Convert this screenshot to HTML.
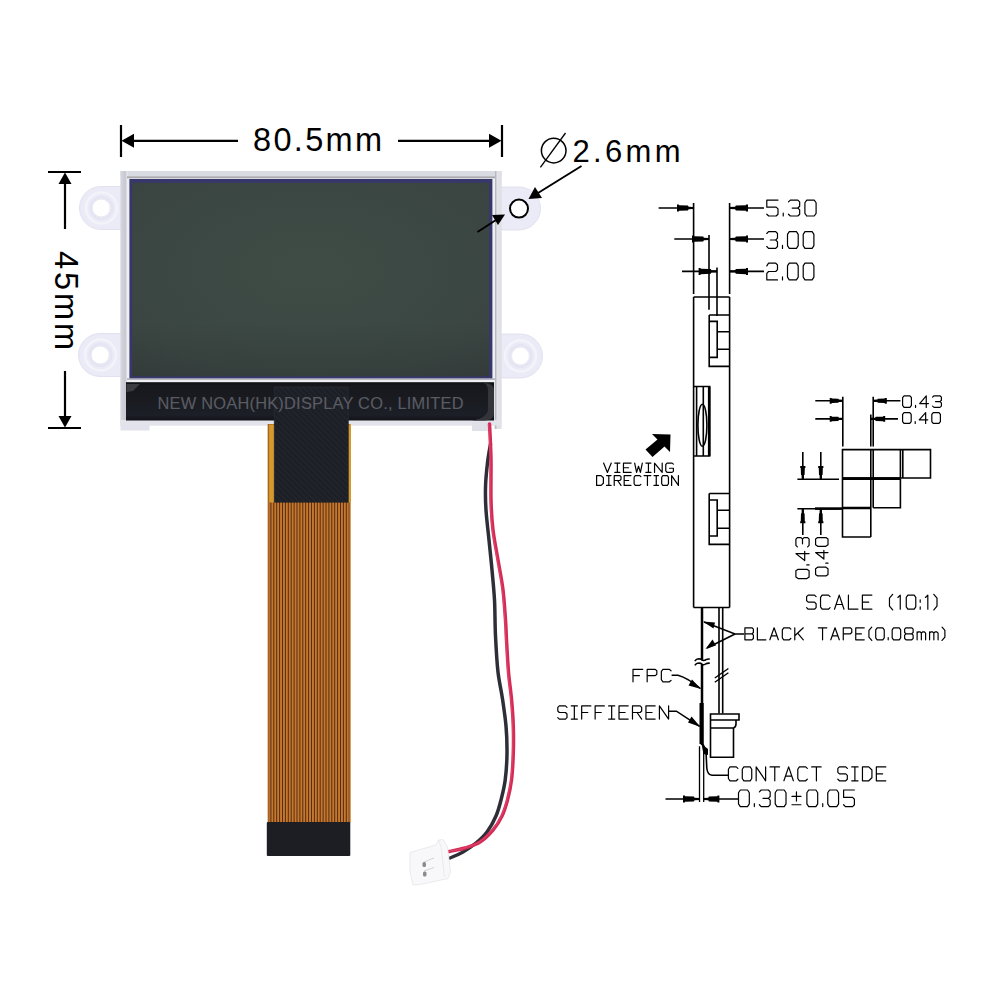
<!DOCTYPE html>
<html><head><meta charset="utf-8">
<style>
html,body{margin:0;padding:0;background:#fff;width:1000px;height:1000px;overflow:hidden}
svg{display:block}
.sans{font-family:"Liberation Sans",sans-serif}
</style></head>
<body>
<svg width="1000" height="1000" viewBox="0 0 1000 1000">
<defs>
  <radialGradient id="scr" cx="0.5" cy="0.45" r="0.85">
    <stop offset="0" stop-color="#3f4c45"/>
    <stop offset="0.65" stop-color="#3b4643"/>
    <stop offset="1" stop-color="#38403e"/>
  </radialGradient>
  <linearGradient id="scrsh" x1="0" x2="0" y1="0" y2="1">
    <stop offset="0.72" stop-color="#000" stop-opacity="0"/>
    <stop offset="1" stop-color="#000" stop-opacity="0.11"/>
  </linearGradient>
  <linearGradient id="fpcg" x1="0" x2="1" y1="0" y2="0">
    <stop offset="0" stop-color="#4a2c0e"/>
    <stop offset="0.25" stop-color="#c47f32"/>
    <stop offset="0.55" stop-color="#e0953c"/>
    <stop offset="0.82" stop-color="#bd772c"/>
    <stop offset="1" stop-color="#4a2c0e"/>
  </linearGradient>
  <pattern id="fpcp" x="268.8" y="0" width="2.85" height="10" patternUnits="userSpaceOnUse">
    <rect x="0" y="0" width="2.85" height="10" fill="url(#fpcg)"/>
  </pattern>
  <pattern id="tapep" width="4" height="4" patternUnits="userSpaceOnUse" patternTransform="rotate(-45)">
    <rect width="4" height="4" fill="#1d1f26"/>
    <rect width="1.1" height="4" fill="#2c2f37"/>
  </pattern>
  <linearGradient id="stripg" x1="0" x2="0" y1="0" y2="1">
    <stop offset="0" stop-color="#0f1013"/>
    <stop offset="0.1" stop-color="#17181d"/>
    <stop offset="0.55" stop-color="#1a1c22"/>
    <stop offset="0.86" stop-color="#1c1f27"/>
    <stop offset="1" stop-color="#111216"/>
  </linearGradient>
  <radialGradient id="earg" cx="0.5" cy="0.5" r="0.5">
    <stop offset="0" stop-color="#f3f3fb"/>
    <stop offset="0.55" stop-color="#ebebf6"/>
    <stop offset="0.75" stop-color="#f1f1f9"/>
    <stop offset="1" stop-color="#e4e4f1"/>
  </radialGradient>
  <linearGradient id="frl" x1="0" x2="1" y1="0" y2="0">
    <stop offset="0" stop-color="#d6d6e0"/>
    <stop offset="0.7" stop-color="#c8c8d2"/>
    <stop offset="1" stop-color="#ededf2"/>
  </linearGradient>
  <linearGradient id="frr" x1="0" x2="1" y1="0" y2="0">
    <stop offset="0" stop-color="#d8d8de"/>
    <stop offset="0.14" stop-color="#b8b9bf"/>
    <stop offset="0.4" stop-color="#e2e2e8"/>
    <stop offset="1" stop-color="#dedee4"/>
  </linearGradient>
</defs>

<!-- ===== dimension 80.5mm ===== -->
<g stroke="#000" stroke-width="2.2" fill="none">
  <line x1="121" y1="125" x2="121" y2="157"/>
  <line x1="132" y1="140.8" x2="238" y2="140.8"/>
  <line x1="502" y1="125" x2="502" y2="157"/>
  <line x1="398" y1="140.8" x2="491" y2="140.8"/>
  <line x1="48" y1="172" x2="81" y2="172"/>
  <line x1="65" y1="182" x2="65" y2="229"/>
  <line x1="48" y1="428" x2="81" y2="428"/>
  <line x1="65" y1="371" x2="65" y2="418"/>
</g>
<g fill="#000">
  <path d="M121.5 140.8 L134 133.8 L134 147.8 Z"/>
  <path d="M501.5 140.8 L489 133.8 L489 147.8 Z"/>
  <path d="M65 172.5 L58.5 184 L71.5 184 Z"/>
  <path d="M65 427.5 L58.5 416 L71.5 416 Z"/>
</g>
<text class="sans" x="253" y="151" font-size="32.5" textLength="129" lengthAdjust="spacing">80.5mm</text>
<text class="sans" transform="translate(55,251) rotate(90)" font-size="32.5" textLength="99" lengthAdjust="spacing" x="0" y="0">45mm</text>

<!-- diameter -->
<circle cx="553.7" cy="150.6" r="12.3" fill="none" stroke="#000" stroke-width="1.5"/>
<line x1="540.4" y1="167.4" x2="565.5" y2="133" stroke="#000" stroke-width="1.3"/>
<text class="sans" x="572.5" y="162" font-size="31" textLength="108" lengthAdjust="spacing">2.6mm</text>

<!-- ===== LCD module ===== -->
<!-- ears -->
<g fill="#ebebf7" stroke="#dcdcec" stroke-width="0.8">
  <path d="M123 186.5 L101 186.5 A21.5 21.5 0 0 0 101 229.5 L123 229.5 Z"/>
  <path d="M123 333.5 L100 333.5 A21.5 21.5 0 0 0 100 376.5 L123 376.5 Z"/>
  <path d="M499 187 L519 187 A21.5 21.5 0 0 1 519 230 L499 230 Z"/>
  <path d="M499 334 L520.5 334 A22 22 0 0 1 520.5 378 L499 378 Z"/>
</g>
<g fill="none" stroke="#f3f3fa" stroke-width="2.5">
  <circle cx="101.5" cy="208" r="15.5"/>
  <circle cx="100.5" cy="355" r="15.5"/>
  <circle cx="520.5" cy="356" r="15.5"/>
</g>
<g fill="none" stroke="#e4e4f3" stroke-width="2">
  <circle cx="101.5" cy="208" r="11"/>
  <circle cx="100.5" cy="355" r="11"/>
  <circle cx="520.5" cy="356" r="11"/>
</g>
<g fill="#fff" stroke="#e4e4ec" stroke-width="0.8">
  <circle cx="101.2" cy="208" r="9"/>
  <circle cx="100.2" cy="355" r="9"/>
  <circle cx="520.5" cy="356" r="9"/>
</g>
<!-- frame -->
<rect x="120.5" y="171" width="381" height="254.5" fill="#e6e6ec"/>
<rect x="120.5" y="171" width="381" height="5.5" fill="#d9dbe2"/>
<rect x="120.5" y="171" width="7" height="254.5" fill="url(#frl)"/>
<rect x="494.5" y="171" width="7" height="258" fill="url(#frr)"/>
<rect x="120.5" y="420" width="381" height="5.5" fill="#e3e3eb"/>
<rect x="120.5" y="425" width="29" height="5.5" fill="#e2e2ec"/>
<rect x="472" y="422" width="19" height="9" fill="#e0e0e8"/>
<rect x="127" y="176" width="368" height="206.5" fill="#eeeff3"/>
<rect x="127" y="176.3" width="368" height="2" fill="#a9a9ae"/>
<rect x="127" y="378.3" width="368" height="1.6" fill="#b0b0b8"/>
<rect x="129.4" y="179" width="363" height="199.3" fill="#38376b"/>
<rect x="132.2" y="182.7" width="356.8" height="193.6" fill="url(#scr)"/>
<rect x="132.2" y="182.7" width="356.8" height="193.6" fill="url(#scrsh)"/>
<!-- black strip -->
<rect x="126" y="382.2" width="368" height="38.3" fill="url(#stripg)"/>
<path d="M126.5 384 L140 384 L133 391 L126.5 392 Z" fill="#4b4c52" opacity="0.7"/>
<path d="M484 383 Q494 383 494 391 L494 413 Q494 420.5 484 420.5 L472 420.5 Q488 417.5 488 409 L488 391 Q488 385 484 383Z" fill="#34353b"/>

<!-- FPC -->
<rect x="267.8" y="424" width="83" height="398.5" fill="#c7782d"/>
<path d="M270.90 424V822 M273.80 424V822 M276.70 424V822 M279.60 424V822 M282.50 424V822 M285.40 424V822 M288.30 424V822 M291.20 424V822 M294.10 424V822 M297.00 424V822 M299.90 424V822 M302.80 424V822 M305.70 424V822 M308.60 424V822 M311.50 424V822 M314.40 424V822 M317.30 424V822 M320.20 424V822 M323.10 424V822 M326.00 424V822 M328.90 424V822 M331.80 424V822 M334.70 424V822 M337.60 424V822 M340.50 424V822 M343.40 424V822 M346.30 424V822 M349.20 424V822" stroke="#4c2812" stroke-width="0.95"/>
<rect x="267.8" y="424" width="1.5" height="398.5" fill="#a86226"/>
<rect x="349.6" y="424" width="1.4" height="398.5" fill="#d9a560" opacity="0.8"/>
<rect x="269.2" y="424.5" width="5.5" height="78" fill="#d49a2c"/>
<rect x="348" y="424.5" width="3" height="78" fill="#d49a2c"/>
<rect x="274.3" y="387" width="74" height="115.5" fill="#1d1f26"/>
<rect x="274.3" y="387" width="74" height="115.5" fill="url(#tapep)" opacity="0.45"/>
<path d="M274.3 387V502.5 M348.3 387V502.5 M274.3 387H348.3" stroke="#2a2c33" stroke-width="0.7"/>
<rect x="266.8" y="822" width="83.5" height="34" rx="1" fill="#1d1e23"/>

<text class="sans" x="157.5" y="408.5" font-size="16.4" fill="#5a5c63" stroke="#5a5b61" stroke-width="0.12" textLength="306" lengthAdjust="spacing">NEW NOAH(HK)DISPLAY CO., LIMITED</text>

<!-- wires -->
<path d="M490.5 444.0 C490.0 447.0 488.4 455.2 487.6 462.0 C486.8 468.8 485.9 477.0 485.6 485.0 C485.3 493.0 485.4 500.8 486.0 510.0 C486.6 519.2 488.0 530.0 489.0 540.0 C490.0 550.0 491.1 560.0 492.0 570.0 C492.9 580.0 493.9 589.0 494.5 600.0 C495.1 611.0 494.9 624.0 495.5 636.0 C496.1 648.0 496.8 661.5 498.0 672.0 C499.2 682.5 501.2 690.0 502.5 699.0 C503.8 708.0 505.2 717.0 506.0 726.0 C506.8 735.0 507.1 744.0 507.0 753.0 C506.9 762.0 506.2 772.2 505.2 780.0 C504.2 787.8 502.5 794.0 501.0 800.0 C499.5 806.0 498.3 810.7 496.0 816.0 C493.7 821.3 490.3 827.5 487.0 832.0 C483.7 836.5 480.0 839.7 476.0 843.0 C472.0 846.3 467.3 849.5 463.0 852.0 C458.7 854.5 452.2 857.0 450.0 858.0" fill="none" stroke="#2e2e38" stroke-width="3.5" stroke-linecap="round"/>
<path d="M489.5 424.0 C489.8 430.0 490.8 447.3 491.0 460.0 C491.2 472.7 490.7 488.3 491.0 500.0 C491.3 511.7 491.8 520.0 493.0 530.0 C494.2 540.0 496.3 550.0 498.0 560.0 C499.7 570.0 501.8 580.0 503.0 590.0 C504.2 600.0 504.9 611.7 505.5 620.0 C506.1 628.3 506.0 631.3 506.5 640.0 C507.0 648.7 507.7 662.2 508.5 672.0 C509.3 681.8 510.7 690.0 511.5 699.0 C512.3 708.0 513.0 717.0 513.3 726.0 C513.6 735.0 513.6 744.0 513.3 753.0 C513.0 762.0 512.5 772.2 511.5 780.0 C510.5 787.8 509.1 794.0 507.5 800.0 C505.9 806.0 504.4 811.0 502.0 816.0 C499.6 821.0 496.7 825.7 493.0 830.0 C489.3 834.3 484.7 839.0 480.0 842.0 C475.3 845.0 470.2 846.4 465.0 848.0 C459.8 849.6 451.7 850.9 449.0 851.5" fill="none" stroke="#d52a55" stroke-width="3.5" stroke-linecap="round"/>
<path d="M489.5 424.0 C489.8 430.0 490.8 447.3 491.0 460.0 C491.2 472.7 490.7 488.3 491.0 500.0 C491.3 511.7 491.8 520.0 493.0 530.0 C494.2 540.0 496.3 550.0 498.0 560.0 C499.7 570.0 501.8 580.0 503.0 590.0 C504.2 600.0 504.9 611.7 505.5 620.0 C506.1 628.3 506.0 631.3 506.5 640.0 C507.0 648.7 507.7 662.2 508.5 672.0 C509.3 681.8 510.7 690.0 511.5 699.0 C512.3 708.0 513.0 717.0 513.3 726.0 C513.6 735.0 513.6 744.0 513.3 753.0 C513.0 762.0 512.5 772.2 511.5 780.0 C510.5 787.8 509.1 794.0 507.5 800.0 C505.9 806.0 504.4 811.0 502.0 816.0 C499.6 821.0 496.7 825.7 493.0 830.0 C489.3 834.3 484.7 839.0 480.0 842.0 C475.3 845.0 470.2 846.4 465.0 848.0 C459.8 849.6 451.7 850.9 449.0 851.5" fill="none" stroke="#e9708e" stroke-width="0.8" opacity="0.5" transform="translate(-0.8,0)"/>
<!-- connector -->
<path d="M410 852.5 L436 845 L438.5 840 L443 839.5 L447.5 847 L450.5 872 L448 878.5 L420 884.5 L413 885 L410 872 Z" fill="#f8f8fb" stroke="#e4e4ec" stroke-width="0.8"/>
<path d="M438.5 840 L441 846 L444.5 877" fill="none" stroke="#e4e4ec" stroke-width="0.8"/>
<path d="M424 862 L434 858 M424 871 L434 867.5" stroke="#c8c8d0" stroke-width="0.8"/>
<rect x="422.5" y="862" width="3.5" height="5" rx="1.5" fill="#8a8a90"/>
<rect x="423" y="871.5" width="3.5" height="5" rx="1.5" fill="#8a8a90"/>

<!-- arrows to hole -->
<circle cx="519" cy="208.6" r="9" fill="#fff" stroke="#000" stroke-width="2"/>
<line x1="581.5" y1="166" x2="538" y2="193" stroke="#000" stroke-width="2"/>
<path d="M528.5 199 L535 187 L542 198 Z" fill="#000"/>
<line x1="477.5" y1="232" x2="496" y2="220" stroke="#000" stroke-width="2"/>
<path d="M505 214.6 L492 215 L498 225 Z" fill="#000"/>

<!-- ===== technical drawing ===== -->
<g id="draw" stroke="#000" stroke-width="1.6" fill="none" stroke-linecap="butt">
  <!-- top dims -->
  <path d="M658.6 208H693.6 M674.3 239H709 M682 271.4H717 M730 208H764 M730 239H764 M730 271.4H764"/>
  <path d="M693.6 203V294 M729.6 203V294 M693.6 297V607.5 M729.6 297V607.5 M709 235V309.7 M717 267.4V316 M693.6 297H729.6 M693.6 607.5H729.6"/>
  <!-- upper inner box -->
  <path d="M709.2 315H729.6 M709.2 315V366.4H729.6 M709.2 321.4H717.2V357.4H709.2 M717.2 331.7H729.6 M717.2 349.3H729.6"/>
  <!-- film -->
  <path d="M693.6 386.5H709.6V456H693.6 M696.6 386.5V456 M703.3 386.5V456"/>
  <path d="M709.2 386.5V456" stroke-width="2.6"/>
  <ellipse cx="702.4" cy="425.3" rx="4.5" ry="21"/>
  <!-- lower inner box -->
  <path d="M709.2 493.5H729.6 M709.2 493.5V544.4H729.6 M709.2 500H717.2V536H709.2 M717.2 510.2H729.6 M717.2 528.2H729.6"/>
  <!-- below box -->
  <path d="M702 607.5V660 M702 664V745" stroke-width="2.5"/>
  <path d="M701.6 703V744" stroke-width="4.2"/>
  <path d="M694.8 661.2 C695.8 659.6 696.8 658.8 698.5 658.8 L700.8 659 C702 660.8 704.6 661 706 659.6 C707 659 708.3 658.9 709.8 659 M694.8 665.4 C695.8 663.8 696.8 663 698.5 663 L700.8 663.2 C702 665 704.6 665.2 706 663.8 C707 663.2 708.3 663.1 709.8 663.2" stroke-width="1.6"/>
  <path d="M719 607.5V713.5 M722.7 607.5V713.5"/>
  <path d="M714.8 678L728.4 668.5 M714.8 682.2L728.4 672.7" stroke-width="1.4"/>
  <path d="M710.5 714H739V720H710.5Z M710.5 720V757.3H733.5V728 Q736 727 736 724 V720 M710.5 728H733.5"/>
  <path d="M699.5 746.3V802 M703.7 746.3V802" stroke-width="1.3"/>
  <path d="M703 744L706 752 L706.8 768 Q707.5 775 712 775.2 H728.4"/>
  <!-- bottom dim -->
  <path d="M665.5 799H699.6 M703.5 799H738"/>
  <!-- leaders -->
  <path d="M744 634H735 L704 622 M735 634 L707 648"/>
  <path d="M671.6 675.2H678 Q688 678 700.4 688.5"/>
  <path d="M669 711.2H676.4 L699.6 726.4"/>
  <!-- squares -->
  <path d="M842.5 449.6H930.5V478H842.5Z M870.8 449.6V537 M873.2 449.6V507.7 M902.8 449.6V478 M842.5 449.6V537H870.8 M873.2 507.7H900.4V478.9 M900.4 449.6V478"/>
  <path d="M842.5 478.6H900.4 M842.5 508H870.8" stroke-width="2.6"/>
  <!-- dims for squares -->
  <path d="M842.8 396.8V446.4 M873.2 396.8V446.4 M870.8 414.4V446.4 M815.3 400.8H842.8 M815.3 418.9H842.8 M873 400.8H900.4 M871 418.9H898"/>
  <path d="M802.8 452V479 M820.8 452V479 M797.4 479.2H839 M797.4 508.8H839 M802.8 508.8V535 M820.8 508.8V535"/>
  <path d="M815 508.6H843" stroke-width="2.6"/>
</g>
<g fill="#000">
  <path d="M677.00 204.50 L679.00 204.50 L679.00 205.27 L687.96 205.55 L688.62 206.80 L693.60 206.90 L693.60 209.10 L688.62 209.20 L687.96 210.45 L679.00 210.73 L679.00 211.50 L677.00 211.50Z M748.00 204.50 L746.00 204.50 L746.00 205.27 L735.86 205.55 L735.12 206.80 L729.60 206.90 L729.60 209.10 L735.12 209.20 L735.86 210.45 L746.00 210.73 L746.00 211.50 L748.00 211.50Z M692.00 235.50 L694.00 235.50 L694.00 236.27 L703.22 236.55 L703.90 237.80 L709.00 237.90 L709.00 240.10 L703.90 240.20 L703.22 241.45 L694.00 241.73 L694.00 242.50 L692.00 242.50Z M748.00 235.50 L746.00 235.50 L746.00 236.27 L735.86 236.55 L735.12 237.80 L729.60 237.90 L729.60 240.10 L735.12 240.20 L735.86 241.45 L746.00 241.73 L746.00 242.50 L748.00 242.50Z M698.60 267.90 L700.60 267.90 L700.60 268.67 L710.74 268.95 L711.48 270.20 L717.00 270.30 L717.00 272.50 L711.48 272.60 L710.74 273.85 L700.60 274.13 L700.60 274.90 L698.60 274.90Z M748.00 267.90 L746.00 267.90 L746.00 268.67 L735.86 268.95 L735.12 270.20 L729.60 270.30 L729.60 272.50 L735.12 272.60 L735.86 273.85 L746.00 274.13 L746.00 274.90 L748.00 274.90Z M683.00 795.50 L685.00 795.50 L685.00 796.27 L693.89 796.55 L694.55 797.80 L699.50 797.90 L699.50 800.10 L694.55 800.20 L693.89 801.45 L685.00 801.73 L685.00 802.50 L683.00 802.50Z M719.40 795.50 L717.40 795.50 L717.40 796.27 L708.91 796.55 L708.27 797.80 L703.50 797.90 L703.50 800.10 L708.27 800.20 L708.91 801.45 L717.40 801.73 L717.40 802.50 L719.40 802.50Z M829.70 397.90 L831.70 397.90 L831.70 398.54 L838.35 398.77 L838.87 399.60 L842.80 399.70 L842.80 401.90 L838.87 402.00 L838.35 402.83 L831.70 403.06 L831.70 403.70 L829.70 403.70Z M886.80 397.90 L884.80 397.90 L884.80 398.54 L877.82 398.77 L877.28 399.60 L873.20 399.70 L873.20 401.90 L877.28 402.00 L877.82 402.83 L884.80 403.06 L884.80 403.70 L886.80 403.70Z M829.70 416.00 L831.70 416.00 L831.70 416.64 L838.35 416.87 L838.87 417.70 L842.80 417.80 L842.80 420.00 L838.87 420.10 L838.35 420.93 L831.70 421.16 L831.70 421.80 L829.70 421.80Z M885.20 416.00 L883.20 416.00 L883.20 416.64 L875.70 416.87 L875.12 417.70 L870.80 417.80 L870.80 420.00 L875.12 420.10 L875.70 420.93 L883.20 421.16 L883.20 421.80 L885.20 421.80Z M800.20 466.00 L800.20 468.00 L800.77 468.00 L800.98 474.71 L801.60 475.24 L801.70 479.20 L803.90 479.20 L804.00 475.24 L804.62 474.71 L804.83 468.00 L805.40 468.00 L805.40 466.00Z M818.20 466.00 L818.20 468.00 L818.77 468.00 L818.98 474.71 L819.60 475.24 L819.70 479.20 L821.90 479.20 L822.00 475.24 L822.62 474.71 L822.83 468.00 L823.40 468.00 L823.40 466.00Z M800.20 523.20 L800.20 521.20 L800.77 521.20 L800.98 513.70 L801.60 513.12 L801.70 508.80 L803.90 508.80 L804.00 513.12 L804.62 513.70 L804.83 521.20 L805.40 521.20 L805.40 523.20Z M818.20 523.20 L818.20 521.20 L818.77 521.20 L818.98 513.70 L819.60 513.12 L819.70 508.80 L821.90 508.80 L822.00 513.12 L822.62 513.70 L822.83 521.20 L823.40 521.20 L823.40 523.20Z"/>
  <!-- leader arrowheads -->
  <path d="M703 621.5 L715 622.5 L713.5 628.5Z"/>
  <path d="M705.5 649 L712.5 639.5 L716 645.5Z"/>
  <path d="M701 689 L688.5 685.5 L692 679.5Z"/>
  <path d="M700.5 727 L688 722.5 L691.5 716.5Z"/>
  <path d="M701.5 744 L708 749 L708 755 L703.5 754Z"/>
  <!-- viewing arrow -->
  <path d="M652 434 L670.5 434.5 L670 452 L664.5 446.5 L652.5 457 L645.5 449.5 L657.5 439.5Z"/>
</g>
<path d="M778.00 200.10 L766.80 200.10 L766.80 207.17 L776.14 207.17 L778.00 208.93 L778.00 214.23 L776.14 216.00 L768.67 216.00 L766.80 214.23 M783.23 216.00 L783.23 213.17 M788.46 201.87 L790.33 200.10 L797.80 200.10 L799.67 201.87 L799.67 206.28 L797.80 208.05 L792.20 208.05 M797.80 208.05 L799.67 209.82 L799.67 214.23 L797.80 216.00 L790.33 216.00 L788.46 214.23 M806.76 216.00 L814.23 216.00 L816.10 213.35 L816.10 202.75 L814.23 200.10 L806.76 200.10 L804.90 202.75 L804.90 213.35 L806.76 216.00 M766.80 233.47 L768.58 231.60 L775.72 231.60 L777.50 233.47 L777.50 238.13 L775.72 240.00 L770.37 240.00 M775.72 240.00 L777.50 241.87 L777.50 246.53 L775.72 248.40 L768.58 248.40 L766.80 246.53 M782.50 248.40 L782.50 245.41 M789.28 248.40 L796.42 248.40 L798.20 245.60 L798.20 234.40 L796.42 231.60 L789.28 231.60 L787.50 234.40 L787.50 245.60 L789.28 248.40 M804.98 248.40 L812.12 248.40 L813.90 245.60 L813.90 234.40 L812.12 231.60 L804.98 231.60 L803.20 234.40 L803.20 245.60 L804.98 248.40 M766.80 265.90 L768.58 263.10 L775.72 263.10 L777.50 264.97 L777.50 269.63 L775.72 271.50 L768.58 271.50 L766.80 273.37 L766.80 279.90 L777.50 279.90 M782.50 279.90 L782.50 276.91 M789.28 279.90 L796.42 279.90 L798.20 277.10 L798.20 265.90 L796.42 263.10 L789.28 263.10 L787.50 265.90 L787.50 277.10 L789.28 279.90 M804.98 279.90 L812.12 279.90 L813.90 277.10 L813.90 265.90 L812.12 263.10 L804.98 263.10 L803.20 265.90 L803.20 277.10 L804.98 279.90 M603.60 463.10 L607.42 472.40 L611.24 463.10 M614.81 463.10 L619.90 463.10 M617.36 463.10 L617.36 472.40 M614.81 472.40 L619.90 472.40 M631.11 463.10 L623.47 463.10 L623.47 472.40 L631.11 472.40 M623.47 467.75 L628.56 467.75 M634.68 463.10 L636.59 472.40 L638.50 466.20 L640.41 472.40 L642.32 463.10 M645.89 463.10 L650.98 463.10 M648.44 463.10 L648.44 472.40 M645.89 472.40 L650.98 472.40 M654.55 472.40 L654.55 463.10 L662.19 472.40 L662.19 463.10 M673.40 464.13 L672.13 463.10 L667.03 463.10 L665.76 464.65 L665.76 470.85 L667.03 472.40 L672.13 472.40 L673.40 471.37 L673.40 468.27 L669.58 468.27 M596.60 485.40 L596.60 475.60 L601.12 475.60 L603.38 477.78 L603.38 483.22 L601.12 485.40 L596.60 485.40 M606.54 475.60 L611.06 475.60 M608.80 475.60 L608.80 485.40 M606.54 485.40 L611.06 485.40 M614.23 485.40 L614.23 475.60 L619.87 475.60 L621.00 476.69 L621.00 479.41 L619.87 480.50 L614.23 480.50 M617.61 480.50 L621.00 485.40 M630.95 475.60 L624.17 475.60 L624.17 485.40 L630.95 485.40 M624.17 480.50 L628.69 480.50 M640.89 476.69 L639.76 475.60 L635.24 475.60 L634.11 477.23 L634.11 483.77 L635.24 485.40 L639.76 485.40 L640.89 484.31 M644.05 475.60 L650.83 475.60 M647.44 475.60 L647.44 485.40 M654.00 475.60 L658.51 475.60 M656.26 475.60 L656.26 485.40 M654.00 485.40 L658.51 485.40 M662.81 485.40 L667.33 485.40 L668.46 483.77 L668.46 477.23 L667.33 475.60 L662.81 475.60 L661.68 477.23 L661.68 483.77 L662.81 485.40 M671.62 485.40 L671.62 475.60 L678.40 485.40 L678.40 475.60 M904.07 407.40 L909.95 407.40 L911.42 405.47 L911.42 397.73 L909.95 395.80 L904.07 395.80 L902.60 397.73 L902.60 405.47 L904.07 407.40 M915.53 407.40 L915.53 405.34 M926.26 407.40 L926.26 395.80 L919.65 403.53 L928.47 403.53 M932.58 397.09 L934.05 395.80 L939.93 395.80 L941.40 397.09 L941.40 400.31 L939.93 401.60 L935.52 401.60 M939.93 401.60 L941.40 402.89 L941.40 406.11 L939.93 407.40 L934.05 407.40 L932.58 406.11 M904.03 423.40 L909.76 423.40 L911.19 421.60 L911.19 414.40 L909.76 412.60 L904.03 412.60 L902.60 414.40 L902.60 421.60 L904.03 423.40 M915.20 423.40 L915.20 421.48 M925.65 423.40 L925.65 412.60 L919.21 419.80 L927.80 419.80 M933.24 423.40 L938.97 423.40 L940.40 421.60 L940.40 414.40 L938.97 412.60 L933.24 412.60 L931.81 414.40 L931.81 421.60 L933.24 423.40 M816.11 596.67 L814.52 595.10 L808.18 595.10 L806.60 596.67 L806.60 600.58 L808.18 602.15 L814.52 602.15 L816.11 603.72 L816.11 607.63 L814.52 609.20 L808.18 609.20 L806.60 607.63 M830.05 596.67 L828.47 595.10 L822.13 595.10 L820.54 597.45 L820.54 606.85 L822.13 609.20 L828.47 609.20 L830.05 607.63 M834.49 609.20 L839.24 595.10 L844.00 609.20 M836.07 604.50 L842.41 604.50 M848.43 595.10 L848.43 609.20 L857.94 609.20 M871.88 595.10 L862.38 595.10 L862.38 609.20 L871.88 609.20 M862.38 602.15 L868.71 602.15 M892.64 594.32 L889.47 598.23 L889.47 606.07 L892.64 609.98 M897.87 597.45 L900.25 595.10 L900.25 609.20 M907.85 609.20 L914.19 609.20 L915.77 606.85 L915.77 597.45 L914.19 595.10 L907.85 595.10 L906.27 597.45 L906.27 606.85 L907.85 609.20 M920.21 609.20 L920.21 606.85 M920.21 602.15 L920.21 599.80 M925.44 597.45 L927.82 595.10 L927.82 609.20 M933.84 594.32 L937.01 598.23 L937.01 606.07 L933.84 609.98 M744.90 639.80 L744.90 627.80 L751.99 627.80 L753.40 629.13 L753.40 632.47 L751.99 633.80 L744.90 633.80 M751.99 633.80 L753.40 635.13 L753.40 638.47 L751.99 639.80 L744.90 639.80 M757.37 627.80 L757.37 639.80 L765.88 639.80 M769.85 639.80 L774.10 627.80 L778.35 639.80 M771.26 635.80 L776.93 635.80 M790.82 629.13 L789.41 627.80 L783.74 627.80 L782.32 629.80 L782.32 637.80 L783.74 639.80 L789.41 639.80 L790.82 638.47 M794.79 639.80 L794.79 627.80 M803.30 627.80 L794.79 635.80 M797.63 633.13 L803.30 639.80 M818.32 627.80 L826.82 627.80 M822.57 627.80 L822.57 639.80 M830.79 639.80 L835.04 627.80 L839.30 639.80 M832.21 635.80 L837.88 635.80 M843.27 639.80 L843.27 627.80 L850.35 627.80 L851.77 629.13 L851.77 632.47 L850.35 633.80 L843.27 633.80 M864.24 627.80 L855.74 627.80 L855.74 639.80 L864.24 639.80 M855.74 633.80 L861.41 633.80 M871.75 627.13 L868.92 630.47 L868.92 637.13 L871.75 640.47 M877.14 639.80 L882.81 639.80 L884.23 637.80 L884.23 629.80 L882.81 627.80 L877.14 627.80 L875.72 629.80 L875.72 637.80 L877.14 639.80 M888.20 639.80 L888.20 637.67 M893.58 639.80 L899.25 639.80 L900.67 637.80 L900.67 629.80 L899.25 627.80 L893.58 627.80 L892.17 629.80 L892.17 637.80 L893.58 639.80 M906.06 633.80 L904.64 632.47 L904.64 629.13 L906.06 627.80 L911.72 627.80 L913.14 629.13 L913.14 632.47 L911.72 633.80 L906.06 633.80 L904.64 635.13 L904.64 638.47 L906.06 639.80 L911.72 639.80 L913.14 638.47 L913.14 635.13 L911.72 633.80 M917.11 639.80 L917.11 631.80 M917.11 633.13 L918.53 631.80 L919.95 631.80 L921.36 633.13 L921.36 639.80 M921.36 633.13 L922.78 631.80 L924.20 631.80 L925.62 633.13 L925.62 639.80 M929.58 639.80 L929.58 631.80 M929.58 633.13 L931.00 631.80 L932.42 631.80 L933.84 633.13 L933.84 639.80 M933.84 633.13 L935.25 631.80 L936.67 631.80 L938.09 633.13 L938.09 639.80 M942.06 627.13 L944.89 630.47 L944.89 637.13 L942.06 640.47 M642.66 669.40 L633.00 669.40 L633.00 681.80 M633.00 675.60 L639.44 675.60 M647.17 681.80 L647.17 669.40 L655.22 669.40 L656.83 670.78 L656.83 674.22 L655.22 675.60 L647.17 675.60 M671.00 670.78 L669.39 669.40 L662.95 669.40 L661.34 671.47 L661.34 679.73 L662.95 681.80 L669.39 681.80 L671.00 680.42 M566.98 707.37 L565.45 705.90 L559.33 705.90 L557.80 707.37 L557.80 711.03 L559.33 712.50 L565.45 712.50 L566.98 713.97 L566.98 717.63 L565.45 719.10 L559.33 719.10 L557.80 717.63 M571.27 705.90 L577.39 705.90 M574.33 705.90 L574.33 719.10 M571.27 719.10 L577.39 719.10 M590.86 705.90 L581.67 705.90 L581.67 719.10 M581.67 712.50 L587.80 712.50 M604.32 705.90 L595.14 705.90 L595.14 719.10 M595.14 712.50 L601.26 712.50 M608.61 705.90 L614.73 705.90 M611.67 705.90 L611.67 719.10 M608.61 719.10 L614.73 719.10 M628.20 705.90 L619.02 705.90 L619.02 719.10 L628.20 719.10 M619.02 712.50 L625.14 712.50 M632.48 719.10 L632.48 705.90 L640.13 705.90 L641.67 707.37 L641.67 711.03 L640.13 712.50 L632.48 712.50 M637.07 712.50 L641.67 719.10 M655.13 705.90 L645.95 705.90 L645.95 719.10 L655.13 719.10 M645.95 712.50 L652.07 712.50 M659.42 719.10 L659.42 705.90 L668.60 719.10 L668.60 705.90 M737.86 768.44 L736.29 766.90 L729.98 766.90 L728.40 769.22 L728.40 778.48 L729.98 780.80 L736.29 780.80 L737.86 779.26 M743.86 780.80 L750.16 780.80 L751.74 778.48 L751.74 769.22 L750.16 766.90 L743.86 766.90 L742.28 769.22 L742.28 778.48 L743.86 780.80 M756.16 780.80 L756.16 766.90 L765.62 780.80 L765.62 766.90 M770.04 766.90 L779.50 766.90 M774.77 766.90 L774.77 780.80 M783.92 780.80 L788.65 766.90 L793.38 780.80 M785.49 776.17 L791.80 776.17 M807.26 768.44 L805.68 766.90 L799.37 766.90 L797.79 769.22 L797.79 778.48 L799.37 780.80 L805.68 780.80 L807.26 779.26 M811.67 766.90 L821.14 766.90 M816.41 766.90 L816.41 780.80 M847.32 768.44 L845.74 766.90 L839.43 766.90 L837.85 768.44 L837.85 772.31 L839.43 773.85 L845.74 773.85 L847.32 775.39 L847.32 779.26 L845.74 780.80 L839.43 780.80 L837.85 779.26 M851.73 766.90 L858.04 766.90 M854.89 766.90 L854.89 780.80 M851.73 780.80 L858.04 780.80 M862.46 780.80 L862.46 766.90 L868.77 766.90 L871.92 769.99 L871.92 777.71 L868.77 780.80 L862.46 780.80 M885.80 766.90 L876.34 766.90 L876.34 780.80 L885.80 780.80 M876.34 773.85 L882.65 773.85 M740.30 806.60 L747.50 806.60 L749.30 803.83 L749.30 792.77 L747.50 790.00 L740.30 790.00 L738.50 792.77 L738.50 803.83 L740.30 806.60 M754.34 806.60 L754.34 803.65 M759.38 791.84 L761.18 790.00 L768.37 790.00 L770.17 791.84 L770.17 796.46 L768.37 798.30 L762.98 798.30 M768.37 798.30 L770.17 800.14 L770.17 804.76 L768.37 806.60 L761.18 806.60 L759.38 804.76 M777.01 806.60 L784.21 806.60 L786.01 803.83 L786.01 792.77 L784.21 790.00 L777.01 790.00 L775.21 792.77 L775.21 803.83 L777.01 806.60 M796.45 801.07 L796.45 791.84 M791.95 796.46 L800.95 796.46 M791.95 804.76 L800.95 804.76 M808.69 806.60 L815.89 806.60 L817.69 803.83 L817.69 792.77 L815.89 790.00 L808.69 790.00 L806.89 792.77 L806.89 803.83 L808.69 806.60 M822.73 806.60 L822.73 803.65 M829.56 806.60 L836.76 806.60 L838.56 803.83 L838.56 792.77 L836.76 790.00 L829.56 790.00 L827.76 792.77 L827.76 803.83 L829.56 806.60 M854.40 790.00 L843.60 790.00 L843.60 797.38 L852.60 797.38 L854.40 799.22 L854.40 804.76 L852.60 806.60 L845.40 806.60 L843.60 804.76 M809.10 577.05 L809.10 570.83 L806.90 569.28 L798.10 569.28 L795.90 570.83 L795.90 577.05 L798.10 578.60 L806.90 578.60 L809.10 577.05 M809.10 564.93 L806.75 564.93 M809.10 553.60 L795.90 553.60 L804.70 560.58 L804.70 551.27 M797.37 546.92 L795.90 545.37 L795.90 539.15 L797.37 537.60 L801.03 537.60 L802.50 539.15 L802.50 543.81 M802.50 539.15 L803.97 537.60 L807.63 537.60 L809.10 539.15 L809.10 545.37 L807.63 546.92 M828.00 574.45 L828.00 568.65 L825.93 567.20 L817.67 567.20 L815.60 568.65 L815.60 574.45 L817.67 575.90 L825.93 575.90 L828.00 574.45 M828.00 563.13 L825.80 563.13 M828.00 552.54 L815.60 552.54 L823.87 559.07 L823.87 550.37 M828.00 544.85 L828.00 539.05 L825.93 537.60 L817.67 537.60 L815.60 539.05 L815.60 544.85 L817.67 546.30 L825.93 546.30 L828.00 544.85" fill="none" stroke="#000" stroke-width="1.2" stroke-linejoin="round" stroke-linecap="round"/>
</svg>
</body></html>
